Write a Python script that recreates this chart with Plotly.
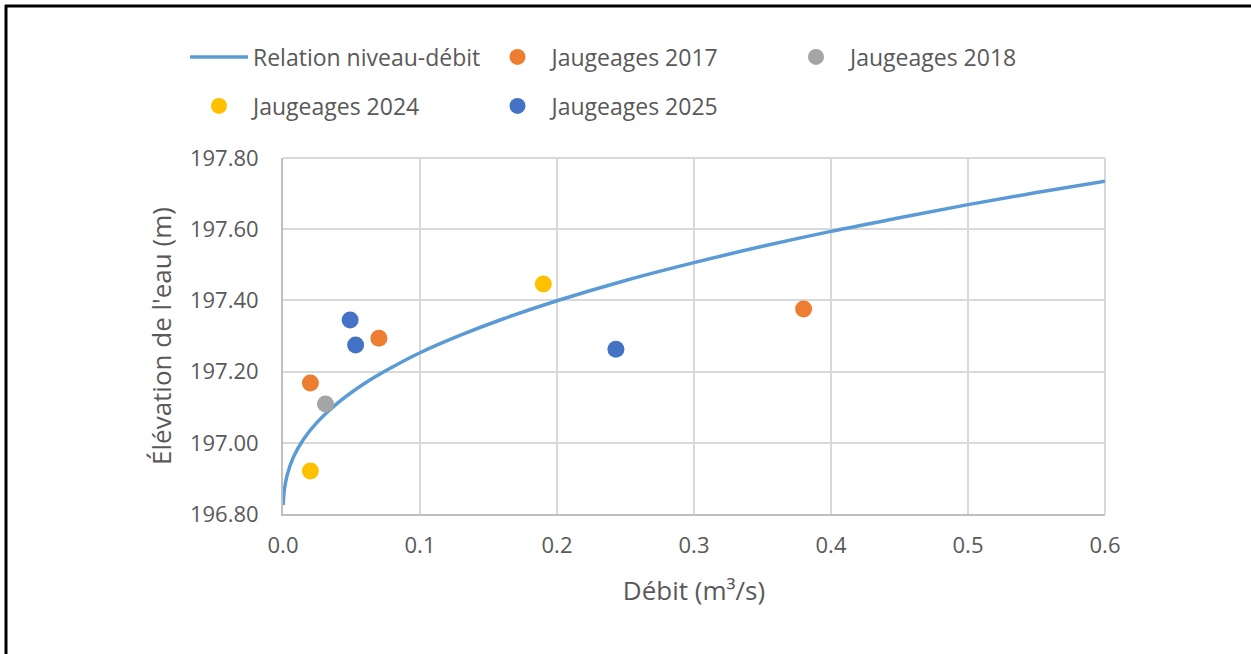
import plotly.graph_objects as go

# Rating curve
curve_q = [0.0001, 0.001, 0.003, 0.0075, 0.015, 0.025, 0.04, 0.06, 0.08, 0.1,
           0.13, 0.16, 0.2, 0.25, 0.3, 0.35, 0.4, 0.45, 0.5, 0.55, 0.6]
curve_h = [196.825, 196.868, 196.909, 196.959, 197.010, 197.058, 197.112, 197.168,
           197.213, 197.253, 197.303, 197.347, 197.399, 197.456, 197.506, 197.552,
           197.594, 197.632, 197.669, 197.703, 197.735]

q_2017 = [0.020, 0.070, 0.380]
h_2017 = [197.168, 197.294, 197.376]
q_2018 = [0.031]
h_2018 = [197.109]
q_2024 = [0.020, 0.190]
h_2024 = [196.921, 197.446]
q_2025 = [0.049, 0.053, 0.243]
h_2025 = [197.345, 197.275, 197.263]

x_ticks = [0.0, 0.1, 0.2, 0.3, 0.4, 0.5, 0.6]
y_ticks = [196.8, 197.0, 197.2, 197.4, 197.6, 197.8]

FONT = "Open Sans"
TXT = "#595959"
W, H = 1251, 654
ML, MR, MT, MB = 283, W - 1105, 158, H - 514
PW, PH = W - ML - MR, H - MT - MB


def px2x(px):
    return (px - ML) / PW


def px2y(py):
    return (H - MB - py) / PH


fig = go.Figure()
fig.add_trace(go.Scatter(x=curve_q, y=curve_h, mode="lines", name="Relation niveau-débit",
                         line=dict(color="#5B9BD5", width=3.5, shape="spline"), legend="legend"))
fig.add_trace(go.Scatter(x=q_2017, y=h_2017, mode="markers", name="Jaugeages 2017",
                         marker=dict(color="#ED7D31", size=17), legend="legend"))
fig.add_trace(go.Scatter(x=q_2018, y=h_2018, mode="markers", name="Jaugeages 2018",
                         marker=dict(color="#A5A5A5", size=17), legend="legend"))
fig.add_trace(go.Scatter(x=q_2024, y=h_2024, mode="markers", name="Jaugeages 2024",
                         marker=dict(color="#FFC000", size=17), legend="legend2"))
fig.add_trace(go.Scatter(x=q_2025, y=h_2025, mode="markers", name="Jaugeages 2025",
                         marker=dict(color="#4472C4", size=17), legend="legend2"))

leg_common = dict(orientation="h", font=dict(family=FONT, size=23, color=TXT),
                  itemwidth=58, entrywidth=225.5, entrywidthmode="pixels",
                  bgcolor="rgba(0,0,0,0)", xanchor="left", yanchor="middle",
                  itemclick=False, itemdoubleclick=False)

fig.update_layout(
    width=W, height=H,
    margin=dict(l=ML, r=MR, t=MT, b=MB),
    paper_bgcolor="white", plot_bgcolor="white",
    font=dict(family=FONT, size=22, color=TXT),
    showlegend=True,
    legend=dict(**leg_common, x=px2x(185), y=px2y(57)),
    legend2=dict(**leg_common, x=px2x(185), y=px2y(106)),
    xaxis=dict(range=[0, 0.6], tickvals=x_ticks, ticktext=[f"{v:.1f}" for v in x_ticks],
               showgrid=True, gridcolor="#D9D9D9", gridwidth=2,
               showline=True, linecolor="#BFBFBF", linewidth=2,
               zeroline=False, ticks="", ticklabelstandoff=11,
               tickfont=dict(family=FONT, size=22, color=TXT),
               title=dict(text="Débit (m³/s)", standoff=23,
                          font=dict(family=FONT, size=26, color=TXT))),
    yaxis=dict(range=[196.8, 197.8], tickvals=y_ticks, ticktext=[f"{v:.2f}" for v in y_ticks],
               showgrid=True, gridcolor="#D9D9D9", gridwidth=2,
               showline=True, linecolor="#BFBFBF", linewidth=2,
               zeroline=False, ticks="", ticklabelstandoff=18,
               tickfont=dict(family=FONT, size=22, color=TXT),
               title=dict(text="Élévation de l'eau (m)", standoff=11,
                          font=dict(family=FONT, size=26, color=TXT))),
    shapes=[
        dict(type="line", xref="paper", yref="paper", x0=px2x(5), x1=px2x(1260),
             y0=px2y(6), y1=px2y(6), line=dict(color="black", width=3)),
        dict(type="line", xref="paper", yref="paper", x0=px2x(6), x1=px2x(6),
             y0=px2y(5), y1=px2y(670), line=dict(color="black", width=3)),
        dict(type="line", xref="paper", yref="paper", x0=1, x1=1, y0=0, y1=1,
             line=dict(color="#D9D9D9", width=2), layer="below"),
        dict(type="line", xref="paper", yref="paper", x0=0, x1=1, y0=1, y1=1,
             line=dict(color="#D9D9D9", width=2), layer="below"),
    ],
)

fig.write_html("out.html", config={"displayModeBar": False},
               post_script="document.body.style.margin='0px';document.body.style.overflow='hidden';")
